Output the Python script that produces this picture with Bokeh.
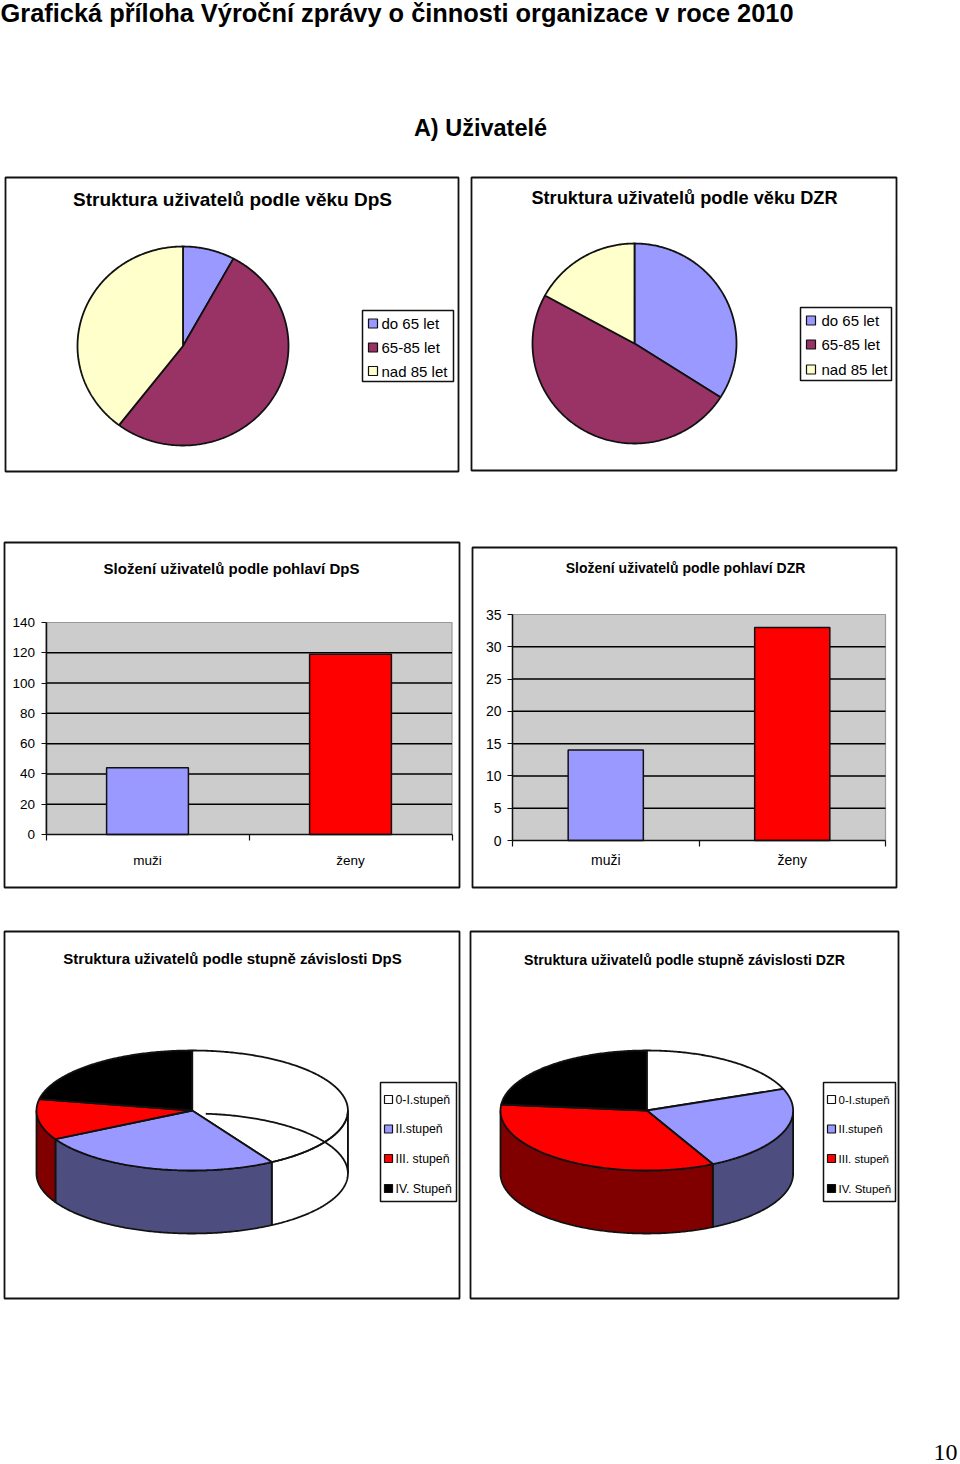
import numpy as np
from bokeh.plotting import figure
from bokeh.layouts import column, row
from bokeh.models import Range1d, Label, BoxAnnotation, FixedTicker, LinearAxis
from bokeh.embed import file_html
from bokeh.resources import INLINE

# ---- data ----
heading = "Grafická příloha Výroční zprávy o činnosti organizace v roce 2010"
section = "A) Uživatelé"
page_no = "10"

age_labels = ["do 65 let", "65-85 let", "nad 85 let"]
age_dps = [13, 86, 65]
age_dzr = [16, 23, 8]

sex_labels = ["muži", "ženy"]
sex_dps = [44, 119]
sex_dzr = [14, 33]
ticks_dps = [0, 20, 40, 60, 80, 100, 120, 140]
ticks_dzr = [0, 5, 10, 15, 20, 25, 30, 35]

care_labels = ["0-I.stupeň", "II.stupeň", "III. stupeň", "IV. Stupeň"]
care_dps = [68, 42, 18, 36]
care_dzr = [9, 11, 16, 11]

# ---- style ----
AGE_COL = ["#9999FF", "#993366", "#FFFFCC"]
SEX_COL = ["#9999FF", "#FF0000"]
CARE_TOP = ["#FFFFFF", "#9999FF", "#FF0000", "#000000"]
CARE_SIDE = ["#FFFFFF", "#4D4D80", "#800000", "#000000"]
INK = "#111111"
SANS = "Liberation Sans"
LW = 1.8


def band(x0, y0, w, h):
    p = figure(width=w, height=h, x_range=Range1d(x0, x0 + w), y_range=Range1d(y0 + h, y0),
               toolbar_location=None, output_backend="svg", min_border=0,
               outline_line_color=None)
    p.axis.visible = False
    p.grid.visible = False
    return p


def lab(p, o, x, y, txt, size, style="normal", align="left", font=SANS):
    p.add_layout(Label(x=x - o[0], y=y - o[1], x_units="canvas", y_units="canvas", text=txt,
                       text_font=font, text_font_size=f"{size}px", text_font_style=style,
                       text_align=align, text_baseline="middle", text_color="#000000"))


def panel_box(p, o, l, t, r, b):
    p.add_layout(BoxAnnotation(left=l - o[0], right=r - o[0], top=t - o[1], bottom=b - o[1],
                               left_units="canvas", right_units="canvas", top_units="canvas",
                               bottom_units="canvas", fill_alpha=0, line_color=INK, line_alpha=1,
                               line_width=LW))


def arc(cx, cy, rx, ry, a0, a1):
    a = np.radians(np.linspace(a0, a1, max(3, int(abs(a1 - a0) * 1.5))))
    return cx + rx * np.sin(a), cy - ry * np.cos(a)


def legend(p, o, l, t, r, b, rows, labels, colors, mx, ms, tx, size):
    p.quad(left=[l], right=[r], top=[t], bottom=[b], fill_color="white", line_color=INK, line_width=1.5)
    for yy, name, c in zip(rows, labels, colors):
        p.quad(left=[mx], right=[mx + ms], top=[yy - ms / 2], bottom=[yy + ms / 2],
               fill_color=c, line_color=INK, line_width=1.2)
        lab(p, o, tx, yy, name, size)


def pie2d(p, values, cx, cy, rx, ry):
    edges = np.cumsum([0] + list(values)) / sum(values) * 360
    for i, c in enumerate(AGE_COL):
        xs, ys = arc(cx, cy, rx, ry, edges[i], edges[i + 1])
        p.patch(np.r_[cx, xs], np.r_[cy, ys], fill_color=c, line_color=INK, line_width=LW)


def pie3d(p, values, cx, cy, rx, ry, depth, back_from):
    edges = np.cumsum([0] + list(values)) / sum(values) * 360
    for i, c in enumerate(CARE_SIDE):
        a0, a1 = max(edges[i], 90), min(edges[i + 1], 270)
        if a1 <= a0:
            continue
        xs, ys = arc(cx, cy, rx, ry, a0, a1)
        p.patch(np.r_[xs, xs[::-1]], np.r_[ys, ys[::-1] + depth], fill_color=c,
                line_color=INK, line_width=LW)
    # a white wall is see-through: the far rim of the base shows in it
    if back_from is not None:
        xs, ys = arc(cx, cy + depth, rx, ry, back_from, 90)
        p.line(xs, ys, line_color=INK, line_width=LW)
        p.line([cx + rx, cx + rx], [cy, cy + depth], line_color=INK, line_width=1.2)
    for i, c in enumerate(CARE_TOP):
        xs, ys = arc(cx, cy, rx, ry, edges[i], edges[i + 1])
        p.patch(np.r_[cx, xs], np.r_[cy, ys], fill_color=c, fill_alpha=0 if i == 0 else 1,
                line_color=INK, line_width=LW)


def bars(p, fl, ft, fr, fb, values, ticks, size, standoff, y_standoff):
    n = len(values)
    vspan = ticks[-1] - ticks[0]
    # scales of the plot area, stretched so that they fill the band's frame
    x0b, x1b = p.x_range.start, p.x_range.end
    yb, yt = p.y_range.start, p.y_range.end   # bottom, top (pixels, inverted)
    ux = n / (fr - fl)
    uy = vspan / (fb - ft)
    p.extra_x_ranges["c"] = Range1d((x0b - fl) * ux, (x1b - fl) * ux)
    p.extra_y_ranges["v"] = Range1d((fb - yb) * uy, (fb - yt) * uy)
    kw = dict(x_range_name="c", y_range_name="v")
    p.quad(left=[0], right=[n], bottom=[ticks[0]], top=[ticks[-1]], fill_color="#CCCCCC",
           line_color="#999999", line_width=1.2, **kw)
    inner = ticks[1:-1]
    p.segment(x0=[0] * len(inner), x1=[n] * len(inner), y0=inner, y1=inner,
              line_color="#000000", line_width=LW - 0.3, **kw)
    p.vbar(x=[i + 0.5 for i in range(n)], top=values, bottom=0, width=0.403,
           fill_color=SEX_COL, line_color=INK, line_width=1.5, **kw)
    ya = LinearAxis(y_range_name="v", fixed_location=fl, bounds=(ticks[0], ticks[-1]),
                    ticker=FixedTicker(ticks=ticks), major_tick_in=0, major_tick_out=5,
                    major_tick_line_color=INK, major_tick_line_width=1.2,
                    minor_tick_line_color=None, major_label_standoff=y_standoff)
    xa = LinearAxis(x_range_name="c", fixed_location=fb, bounds=(0, n),
                    ticker=FixedTicker(ticks=[i + 0.5 for i in range(n)],
                                       minor_ticks=list(range(n + 1))),
                    major_label_overrides={i + 0.5: s for i, s in enumerate(sex_labels)},
                    major_tick_line_color=None, major_tick_in=0, major_tick_out=0,
                    minor_tick_in=0, minor_tick_out=6, minor_tick_line_color=INK,
                    minor_tick_line_width=1.2, major_label_standoff=standoff)
    for a in (xa, ya):
        a.axis_line_color = INK
        a.axis_line_width = 1.5
        a.major_label_text_font = SANS
        a.major_label_text_font_size = f"{size}px"
        a.major_label_text_color = "#000000"
    p.add_layout(ya, "left")
    p.add_layout(xa, "below")


# ---- header band ----
h0 = band(0, 0, 960, 170)
lab(h0, (0, 0), 0, 12, heading, 25.4, "bold")
lab(h0, (0, 0), 480, 127, section, 23.5, "bold", "center")

# ---- age pies ----
a1 = band(0, 170, 465, 330)
o = (0, 170)
panel_box(a1, o, 5, 177, 458, 471)
lab(a1, o, 232, 199, "Struktura uživatelů podle věku DpS", 19, "bold", "center")
pie2d(a1, age_dps, 182.5, 345.5, 105.5, 99.5)
legend(a1, o, 362, 310, 453, 381, [323, 347, 370.5], age_labels, AGE_COL, 368, 9, 381, 15)

a2 = band(465, 170, 495, 330)
o = (465, 170)
panel_box(a2, o, 471, 177, 896, 470)
lab(a2, o, 684, 197, "Struktura uživatelů podle věku DZR", 18.2, "bold", "center")
pie2d(a2, age_dzr, 634, 343, 102, 100)
legend(a2, o, 800, 307, 891, 380, [320, 344, 369], age_labels, AGE_COL, 806, 9, 821, 15)

# ---- sex bars ----
s1 = band(0, 500, 465, 420)
o = (0, 500)
bars(s1, 45.5, 622, 451.5, 834, sex_dps, ticks_dps, 13.5, 12, 6)
panel_box(s1, o, 4, 542, 459, 887)
lab(s1, o, 231, 568, "Složení uživatelů podle pohlaví DpS", 15, "bold", "center")

s2 = band(465, 500, 495, 420)
o = (465, 500)
bars(s2, 512, 614, 885, 840, sex_dzr, ticks_dzr, 14, 5, 6)
panel_box(s2, o, 472, 547, 896, 887)
lab(s2, o, 685, 567, "Složení uživatelů podle pohlaví DZR", 14, "bold", "center")

# ---- care pies ----
c1 = band(0, 920, 465, 420)
o = (0, 920)
panel_box(c1, o, 4, 931, 459, 1298)
lab(c1, o, 232, 958, "Struktura uživatelů podle stupně závislosti DpS", 15, "bold", "center")
pie3d(c1, care_dps, 191.7, 1110, 155.7, 60, 63, 5)
legend(c1, o, 380, 1082, 456, 1201, [1099, 1128.5, 1158, 1188], care_labels, CARE_TOP, 384, 8, 395, 12.3)

c2 = band(465, 920, 495, 420)
o = (465, 920)
panel_box(c2, o, 470, 931, 898, 1298)
lab(c2, o, 684, 959, "Struktura uživatelů podle stupně závislosti DZR", 14.2, "bold", "center")
pie3d(c2, care_dzr, 646.3, 1110, 146.3, 60, 63, None)
legend(c2, o, 823, 1082, 895, 1201, [1099, 1128.5, 1158, 1188], care_labels, CARE_TOP, 827, 8, 838, 11.5)

# ---- footer ----
f0 = band(0, 1340, 960, 124)
lab(f0, (0, 1340), 957, 1452, page_no, 24, "normal", "right", "Liberation Serif")

p = column(h0, row(a1, a2, spacing=0), row(s1, s2, spacing=0), row(c1, c2, spacing=0), f0,
           spacing=0)

open("out.html", "w").write(file_html(p, INLINE))
